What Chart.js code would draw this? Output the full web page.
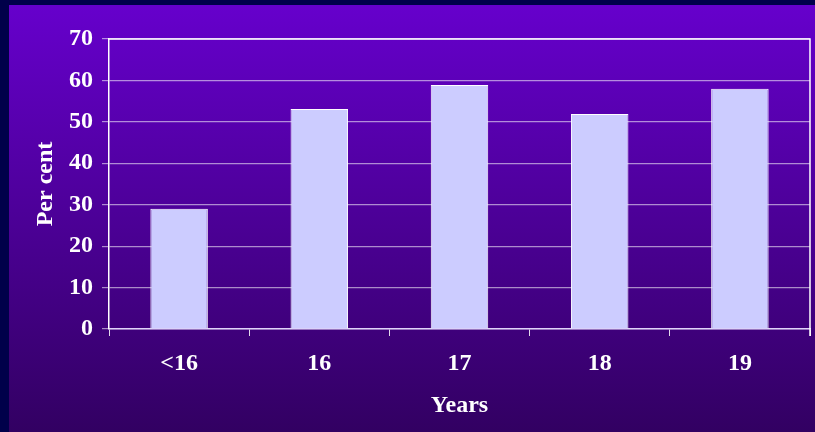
<!DOCTYPE html>
<html>
<head>
<meta charset="utf-8">
<script src="https://cdn.jsdelivr.net/npm/chart.js@4.4.1/dist/chart.umd.min.js"></script>
<style>
  html, body { margin: 0; padding: 0; }
  body { width: 815px; height: 432px; background: #00004a; position: relative; overflow: hidden; }
  #panel {
    position: absolute; left: 9px; top: 5px; width: 806px; height: 427px;
    background: linear-gradient(to bottom, #6600cc 0%, #320062 100%);
  }
</style>
</head>
<body>
<div id="panel"><canvas id="chart" width="806" height="427"></canvas></div>
<script>
const categories = ["<16", "16", "17", "18", "19"];
const perCent = [29, 53.1, 58.9, 51.9, 58];
const yTicks = [0, 10, 20, 30, 40, 50, 60, 70];

const serif = "'Liberation Serif', 'Times New Roman', serif";

// white frame round the plot area (top and right sides too)
const plotFrame = {
  id: "plotFrame",
  afterDraw(chart) {
    const { ctx, chartArea } = chart;
    ctx.save();
    ctx.strokeStyle = "#ffffff";
    ctx.lineWidth = 1.5;
    ctx.beginPath();
    ctx.moveTo(chartArea.left, chartArea.top);
    ctx.lineTo(chartArea.right, chartArea.top);
    ctx.lineTo(chartArea.right, chartArea.bottom + 7);
    ctx.stroke();
    ctx.restore();
  }
};

new Chart(document.getElementById("chart"), {
  type: "bar",
  data: {
    labels: categories,
    datasets: [{
      label: "Per cent",
      data: perCent,
      backgroundColor: "#ccccff",
      borderColor: "#ffffff",
      borderWidth: 1,
      categoryPercentage: 1,
      barPercentage: 0.41
    }]
  },
  options: {
    responsive: false,
    animation: false,
    layout: { padding: { left: 0, right: 5, top: 34, bottom: 0 } },
    plugins: { legend: { display: false }, tooltip: { enabled: false } },
    scales: {
      x: {
        grid: {
          offset: true,
          drawOnChartArea: false,
          drawTicks: true,
          tickLength: 7,
          color: "rgba(255,255,255,0.85)"
        },
        border: { color: "rgba(230,220,255,0.9)", width: 1.5 },
        ticks: {
          color: "#ffffff",
          padding: 13,
          font: { family: serif, size: 24, weight: "bold" }
        },
        title: {
          display: true,
          text: "Years",
          color: "#ffffff",
          padding: { top: 0, bottom: 12 },
          font: { family: serif, size: 24, weight: "bold" }
        },
        afterFit(scale) { scale.height = 103; }
      },
      y: {
        min: 0,
        max: 70,
        afterBuildTicks(scale) { scale.ticks = yTicks.map(v => ({ value: v })); },
        grid: {
          color: "rgba(255,255,255,0.55)",
          lineWidth: 1.2,
          tickLength: 7
        },
        border: { color: "#ffffff", width: 1.5 },
        ticks: {
          color: "#ffffff",
          padding: 9,
          font: { family: serif, size: 24, weight: "bold" }
        },
        title: {
          display: true,
          text: "Per cent",
          color: "#ffffff",
          padding: { top: 22, bottom: 0 },
          font: { family: serif, size: 24, weight: "bold" }
        },
        afterFit(scale) { scale.width = 100; }
      }
    }
  },
  plugins: [plotFrame]
});
</script>
</body>
</html>
